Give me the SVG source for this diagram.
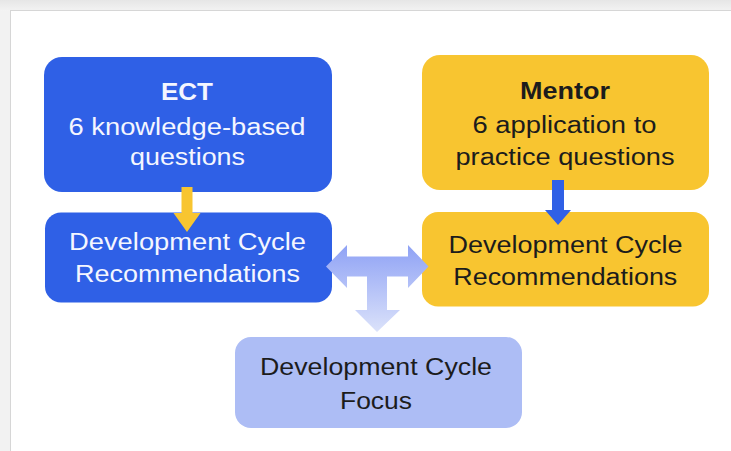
<svg xmlns="http://www.w3.org/2000/svg" width="731" height="451" viewBox="0 0 731 451">
<defs>
<style>
.t{font-family:"Liberation Sans",Arial,sans-serif;font-size:23px;text-anchor:middle}
.b{font-weight:bold}
.w{fill:#f4f6ff}
.k{fill:#1c1c1c}
.blue{fill:#2f60e6}
.yel{fill:#f8c530}
.foc{fill:#adbdf5}
</style>
<linearGradient id="bg" x1="0" y1="0" x2="0" y2="1">
<stop offset="0" stop-color="#e6e6e6"/>
<stop offset="1" stop-color="#f3f3f3"/>
</linearGradient>
<linearGradient id="tg" x1="0" y1="0" x2="0" y2="1">
<stop offset="0" stop-color="#8fa2f5"/>
<stop offset="1" stop-color="#dbe2fa"/>
</linearGradient>
</defs>
<rect x="0" y="0" width="731" height="451" fill="#f2f2f2"/>
<rect x="0" y="0" width="731" height="11" fill="url(#bg)"/>
<rect x="10.5" y="10.5" width="730" height="450" fill="#ffffff" stroke="#d6d6d6" stroke-width="1"/>

<g id="ect">
<rect class="blue" x="44" y="57" width="288" height="135" rx="18"/>
<text class="t b w" x="187" y="100" textLength="52" lengthAdjust="spacingAndGlyphs">ECT</text>
<text class="t w" x="187" y="135" textLength="237" lengthAdjust="spacingAndGlyphs">6 knowledge-based</text>
<text class="t w" x="187.5" y="165" textLength="115" lengthAdjust="spacingAndGlyphs">questions</text>
</g>

<g id="mentor">
<rect class="yel" x="422" y="55" width="287" height="135" rx="18"/>
<text class="t b k" x="565" y="99" textLength="90" lengthAdjust="spacingAndGlyphs">Mentor</text>
<text class="t k" x="564.5" y="133" textLength="184" lengthAdjust="spacingAndGlyphs">6 application to</text>
<text class="t k" x="565" y="165" textLength="219" lengthAdjust="spacingAndGlyphs">practice questions</text>
</g>

<g id="ect-dcr">
<rect class="blue" x="45" y="212.5" width="287" height="90" rx="16"/>
<text class="t w" x="187.5" y="250" textLength="237" lengthAdjust="spacingAndGlyphs">Development Cycle</text>
<text class="t w" x="187.5" y="282" textLength="225" lengthAdjust="spacingAndGlyphs">Recommendations</text>
</g>

<g id="mentor-dcr">
<rect class="yel" x="422" y="212" width="287" height="94.5" rx="16"/>
<text class="t k" x="565.5" y="253" textLength="234" lengthAdjust="spacingAndGlyphs">Development Cycle</text>
<text class="t k" x="565.3" y="285" textLength="224" lengthAdjust="spacingAndGlyphs">Recommendations</text>
</g>

<g id="focus">
<rect class="foc" x="235" y="337" width="287" height="91" rx="16"/>
<text class="t k" x="376" y="375" textLength="232" lengthAdjust="spacingAndGlyphs">Development Cycle</text>
<text class="t k" x="376" y="409" textLength="72" lengthAdjust="spacingAndGlyphs">Focus</text>
</g>

<g id="connectors">
<polygon fill="#f8c530" points="181.5,187 192.5,187 192.5,213 200.5,213 187,232 173.5,213 181.5,213"/>
<polygon fill="#2f60e6" points="552,180 564,180 564,210 571,210 558,225 545,210 552,210"/>
<polygon fill="url(#tg)" points="326,266.5 347,245 347,256.5 408,256.5 408,245 428.5,266.5 408,288 408,276.5 387,276.5 387,310 400,310 377,332 355,310 367,310 367,276.5 347,276.5 347,288"/>
</g>
</svg>
